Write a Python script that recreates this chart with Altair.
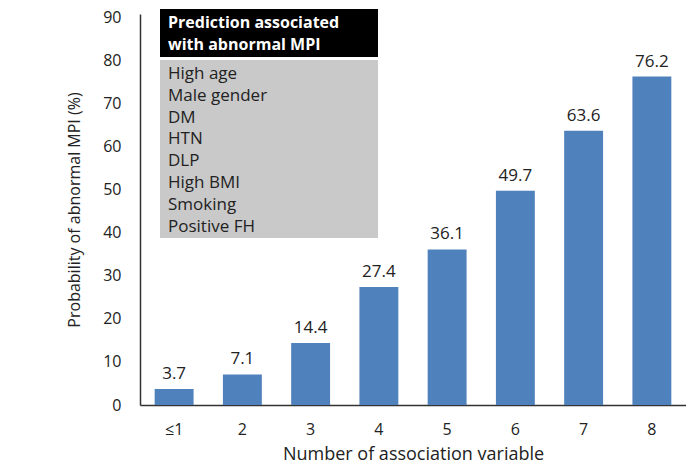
import altair as alt
import pandas as pd

categories = ["≤1", "2", "3", "4", "5", "6", "7", "8"]
values = [3.7, 7.1, 14.4, 27.4, 36.1, 49.7, 63.6, 76.2]
labels = ["3.7", "7.1", "14.4", "27.4", "36.1", "49.7", "63.6", "76.2"]
y_ticks = [0, 10, 20, 30, 40, 50, 60, 70, 80, 90]
box_title = ["Prediction associated", "with abnormal MPI"]
box_items = ["High age", "Male gender", "DM", "HTN", "DLP", "High BMI", "Smoking", "Positive FH"]

FONT = "Open Sans"
df = pd.DataFrame({"cat": categories, "val": values, "lab": labels})
one = pd.DataFrame({"a": [0]})

x = alt.X("cat:N", sort=categories,
          scale=alt.Scale(paddingInner=0.43, paddingOuter=0.215),
          axis=alt.Axis(title="Number of association variable", labelAngle=0, ticks=False,
                        labelPadding=16, titlePadding=8, labelFontSize=16, titleFontSize=18,
                        labelFont=FONT, titleFont=FONT, labelColor="#222", titleColor="#222",
                        titleFontWeight="normal", domainColor="#333", domainWidth=1.5))
y = alt.Y("val:Q", scale=alt.Scale(domain=[0, 90.7], nice=False),
          axis=alt.Axis(title="Probability of abnormal MPI (%)", values=y_ticks, grid=False, ticks=False,
                        labelPadding=19, titlePadding=20, labelFontSize=16, titleFontSize=16,
                        labelFont=FONT, titleFont=FONT, labelColor="#222", titleColor="#222",
                        titleFontWeight="normal", domainColor="#333", domainWidth=1.5))

bars = alt.Chart(df).mark_bar(color="#4F81BD").encode(x=x, y=y)
text = alt.Chart(df).mark_text(font=FONT, fontSize=17, color="#222", dy=-15).encode(
    x=alt.X("cat:N", sort=categories), y="val:Q", text="lab:N")

head_box = alt.Chart(one).mark_rect(color="black").encode(
    x=alt.value(20), x2=alt.value(238), y=alt.value(-5), y2=alt.value(43))
gray_box = alt.Chart(one).mark_rect(color="#C9C9C9").encode(
    x=alt.value(20), x2=alt.value(238), y=alt.value(46), y2=alt.value(224))
head_text = alt.Chart(one).mark_text(text=box_title, font=FONT, fontSize=16, fontWeight="bold",
                                     color="white", align="left", baseline="top", lineHeight=22).encode(
    x=alt.value(28), y=alt.value(1))
item_text = alt.Chart(one).mark_text(text=box_items, font=FONT, fontSize=17, color="#222",
                                     align="left", baseline="top", lineHeight=21.8).encode(
    x=alt.value(28), y=alt.value(52))

chart = alt.layer(bars, text, head_box, gray_box, head_text, item_text).properties(
    width=546, height=391,
    autosize=alt.AutoSizeParams(type="none"),
    padding={"left": 132, "top": 6, "right": 0, "bottom": 64},
).configure_view(stroke=None)

chart.save("out.html", embed_options={"renderer": "svg", "actions": False})
